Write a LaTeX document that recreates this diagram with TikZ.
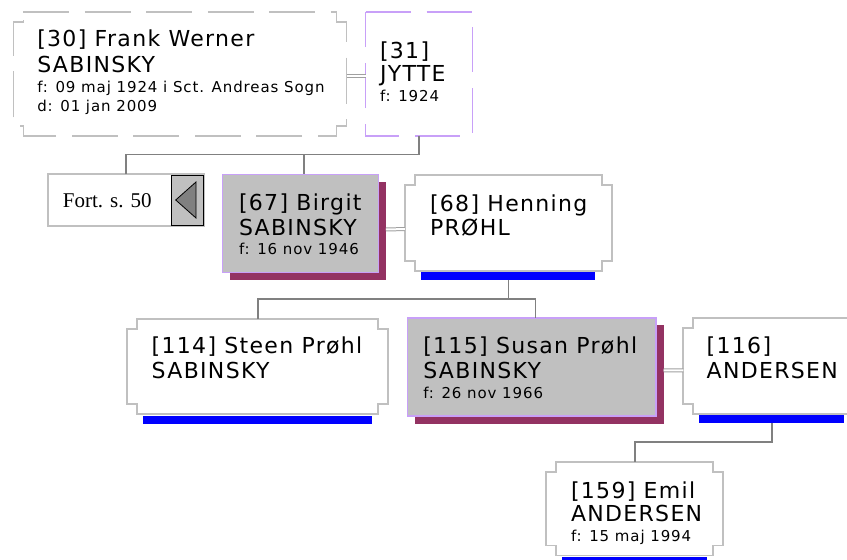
\documentclass[tikz,border=0pt]{standalone}
\usepackage{fontspec}
\setmainfont{DejaVu Sans}[LetterSpace=6]
\newfontfamily\fortfont{Liberation Serif}
\usetikzlibrary{calc}
\definecolor{framegray}{HTML}{C0C0C0}
\definecolor{linegray}{HTML}{808080}
\definecolor{dblgray}{HTML}{A0A0A0}
\definecolor{lav}{HTML}{C8A0F8}
\definecolor{shadowpurple}{HTML}{933262}
\definecolor{fillgray}{HTML}{C0C0C0}
\definecolor{barblue}{HTML}{0000FF}
\tikzset{
  slot/.style={draw=none, inner sep=0pt, outer sep=0pt},
  bigtxt/.style={anchor=base west, inner sep=0pt, outer sep=0pt, font=\fontsize{22}{26}\selectfont},
  smalltxt/.style={anchor=base west, inner sep=0pt, outer sep=0pt, font=\fontsize{15}{18}\selectfont},
  conn/.style={draw=linegray, line width=1.6pt},
  marriage/.style={draw=dblgray, line width=1pt, double=white, double distance=2pt},
  notchframe/.style={draw=framegray, line width=1.8pt, fill=white},
  dashframe/.style={draw=framegray, line width=1.3pt, fill=white, dash pattern=on 46pt off 15.5pt},
  lavdash/.style={draw=lav, line width=1.3pt, fill=white, dash pattern=on 45pt off 16pt},
  graybox/.style={draw=lav, line width=1.5pt, fill=fillgray},
  shadowfill/.style={fill=shadowpurple},
  bluebar/.style={fill=barblue},
}
\newcommand{\notchpath}[2]{%
  \path[#1] ([xshift=10pt]#2.north west) -- ([xshift=-10pt]#2.north east)
    -- ([xshift=-10pt,yshift=-10pt]#2.north east) -- ([yshift=-10pt]#2.north east)
    -- ([yshift=10pt]#2.south east) -- ([xshift=-10pt,yshift=10pt]#2.south east)
    -- ([xshift=-10pt]#2.south east) -- ([xshift=10pt]#2.south west)
    -- ([xshift=10pt,yshift=10pt]#2.south west) -- ([yshift=10pt]#2.south west)
    -- ([yshift=-10pt]#2.north west) -- ([xshift=10pt,yshift=-10pt]#2.north west)
    -- cycle;}
\newcommand{\bluebarunder}[1]{%
  \path[bluebar] ([xshift=16pt,yshift=-1.2pt]#1.south west) rectangle ([xshift=-16.5pt,yshift=-9.3pt]#1.south east);}
\newcommand{\shadowunder}[1]{%
  \path[shadowfill] ([shift={(7.5pt,-7.5pt)}]#1.north west) rectangle ([shift={(7.5pt,-7.5pt)}]#1.south east);}
\begin{document}
\begin{tikzpicture}[x=1pt,y=-1pt]
\useasboundingbox (0,0) rectangle (847,560);
\clip (0,0) rectangle (847,560);
\fill[white] (0,0) rectangle (847,560);

% --- slots (box geometry)
\node[slot, minimum width=333.4pt, minimum height=124pt] (p30) at (180,74) {};
\node[slot, minimum width=107pt, minimum height=124pt] (p31) at (419.2,74) {};
\node[slot, minimum width=155.6pt, minimum height=98pt] (p67) at (300.5,223.3) {};
\node[slot, minimum width=206.7pt, minimum height=95.7pt] (p68) at (508.3,222.9) {};
\node[slot, minimum width=261pt, minimum height=95.3pt] (p114) at (257.8,366.7) {};
\node[slot, minimum width=248.7pt, minimum height=98.3pt] (p115) at (531.7,366.9) {};
\node[slot, minimum width=177pt, minimum height=95.7pt] (p116) at (771.8,366.2) {};
\node[slot, minimum width=177.3pt, minimum height=93.8pt] (p159) at (634.7,508.6) {};

% --- connectors
\coordinate (bus1) at (0,154.5);
\coordinate (bus2) at (0,299);
\coordinate (bus3) at (0,441.7);
\coordinate (c67) at ([xshift=3.75pt]p67.north);
\coordinate (c115) at ([xshift=3.75pt]p115.north);
\coordinate (b68) at ([yshift=-9.3pt]p68.south);
\coordinate (b116) at ([yshift=-9.3pt]p116.south);

% --- frames
\path[dashframe] ([xshift=10pt]p30.north west) -- ([xshift=-10pt]p30.north east)
    -- ([xshift=-10pt,yshift=-10pt]p30.north east) -- ([yshift=-10pt]p30.north east)
    -- ([yshift=10pt]p30.south east) -- ([xshift=-10pt,yshift=10pt]p30.south east)
    -- ([xshift=-10pt]p30.south east) -- ([xshift=10pt]p30.south west)
    -- ([xshift=10pt,yshift=10pt]p30.south west) -- ([yshift=10pt]p30.south west)
    -- ([yshift=-10pt]p30.north west) -- ([xshift=10pt,yshift=-10pt]p30.north west)
    -- cycle;
\path[lavdash] (p31.north west) -- (p31.north east) -- (p31.south east) -- (p31.south west) -- cycle;

\node[draw=framegray, line width=1.8pt, fill=white, inner sep=0pt, outer sep=0pt,
      minimum width=156pt, minimum height=52pt] (fort) at (126,200) {};
\node[draw=black, line width=0.8pt, fill=fillgray, inner sep=0pt, outer sep=0pt,
      minimum width=31.3pt, minimum height=50pt] (arrowbox) at (187.3,200) {};
\filldraw[fill=linegray, draw=black, line width=0.8pt]
  ([xshift=-11.6pt]arrowbox.center) -- ([shift={(8.7pt,18pt)}]arrowbox.center)
  -- ([shift={(8.7pt,-18pt)}]arrowbox.center) -- cycle;
\node[anchor=base west, inner sep=0pt, font=\fortfont\fontsize{21}{24}\selectfont] (fortlbl) at (62.7,207.3) {Fort. s. 50};

\shadowunder{p67}
\path[graybox] (p67.north west) rectangle (p67.south east);
\notchpath{notchframe}{p68}
\bluebarunder{p68}
\notchpath{notchframe}{p114}
\bluebarunder{p114}
\shadowunder{p115}
\path[graybox] (p115.north west) rectangle (p115.south east);
\notchpath{notchframe}{p116}
\bluebarunder{p116}
\notchpath{notchframe}{p159}
\bluebarunder{p159}

% --- family lines
\draw[conn] (p31.south) -- (p31.south |- bus1);
\draw[conn] (fort.north) -- (fort.north |- bus1) -- (p31.south |- bus1);
\draw[conn] (c67 |- bus1) -- (c67);
\draw[conn] (b68) -- (b68 |- bus2);
\draw[conn] (p114.north) -- (p114.north |- bus2) -- (c115 |- bus2) -- (c115);
\draw[conn] (b116) -- (b116 |- bus3) -- (p159.north |- bus3) -- (p159.north);

% --- marriage lines
\draw[marriage] ([yshift=-1.7pt]p30.east) -- ([yshift=-1.7pt]p31.west);
\draw[marriage] ([shift={(7.5pt,-6pt)}]p67.east) -- ([yshift=-6.3pt]p68.west);
\draw[marriage] ([shift={(7.5pt,-3.4pt)}]p115.east) -- ([yshift=-4.1pt]p116.west);

% --- texts
\node[bigtxt] (t30a) at (37.3,46.7) {[30] Frank Werner};
\node[bigtxt] (t30b) at (37.3,72.7) {SABINSKY};
\node[smalltxt] (t30c) at (37.3,92.7) {f: 09 maj 1924 i Sct. Andreas Sogn};
\node[smalltxt] (t30d) at (37.3,111.7) {d: 01 jan 2009};

\node[bigtxt] (t31a) at (380,58.5) {[31]};
\node[bigtxt] (t31b) at (380,81.7) {JYTTE};
\node[smalltxt] (t31c) at (380,101.7) {f: 1924};

\node[bigtxt] (t67a) at (239,210) {[67] Birgit};
\node[bigtxt] (t67b) at (239,235) {SABINSKY};
\node[smalltxt] (t67c) at (239,254) {f: 16 nov 1946};

\node[bigtxt] (t68a) at (430,211) {[68] Henning};
\node[bigtxt] (t68b) at (430,235) {PRØHL};

\node[bigtxt] (t114a) at (151.7,353) {[114] Steen Prøhl};
\node[bigtxt] (t114b) at (151.7,378) {SABINSKY};

\node[bigtxt] (t115a) at (423.3,353.3) {[115] Susan Prøhl};
\node[bigtxt] (t115b) at (423.3,378.3) {SABINSKY};
\node[smalltxt] (t115c) at (423.3,398.3) {f: 26 nov 1966};

\node[bigtxt] (t116a) at (706.7,353) {[116]};
\node[bigtxt] (t116b) at (706.7,378) {ANDERSEN};

\node[bigtxt] (t159a) at (571,498.3) {[159] Emil};
\node[bigtxt] (t159b) at (571,521.7) {ANDERSEN};
\node[smalltxt] (t159c) at (571,541.7) {f: 15 maj 1994};
\end{tikzpicture}
\end{document}
